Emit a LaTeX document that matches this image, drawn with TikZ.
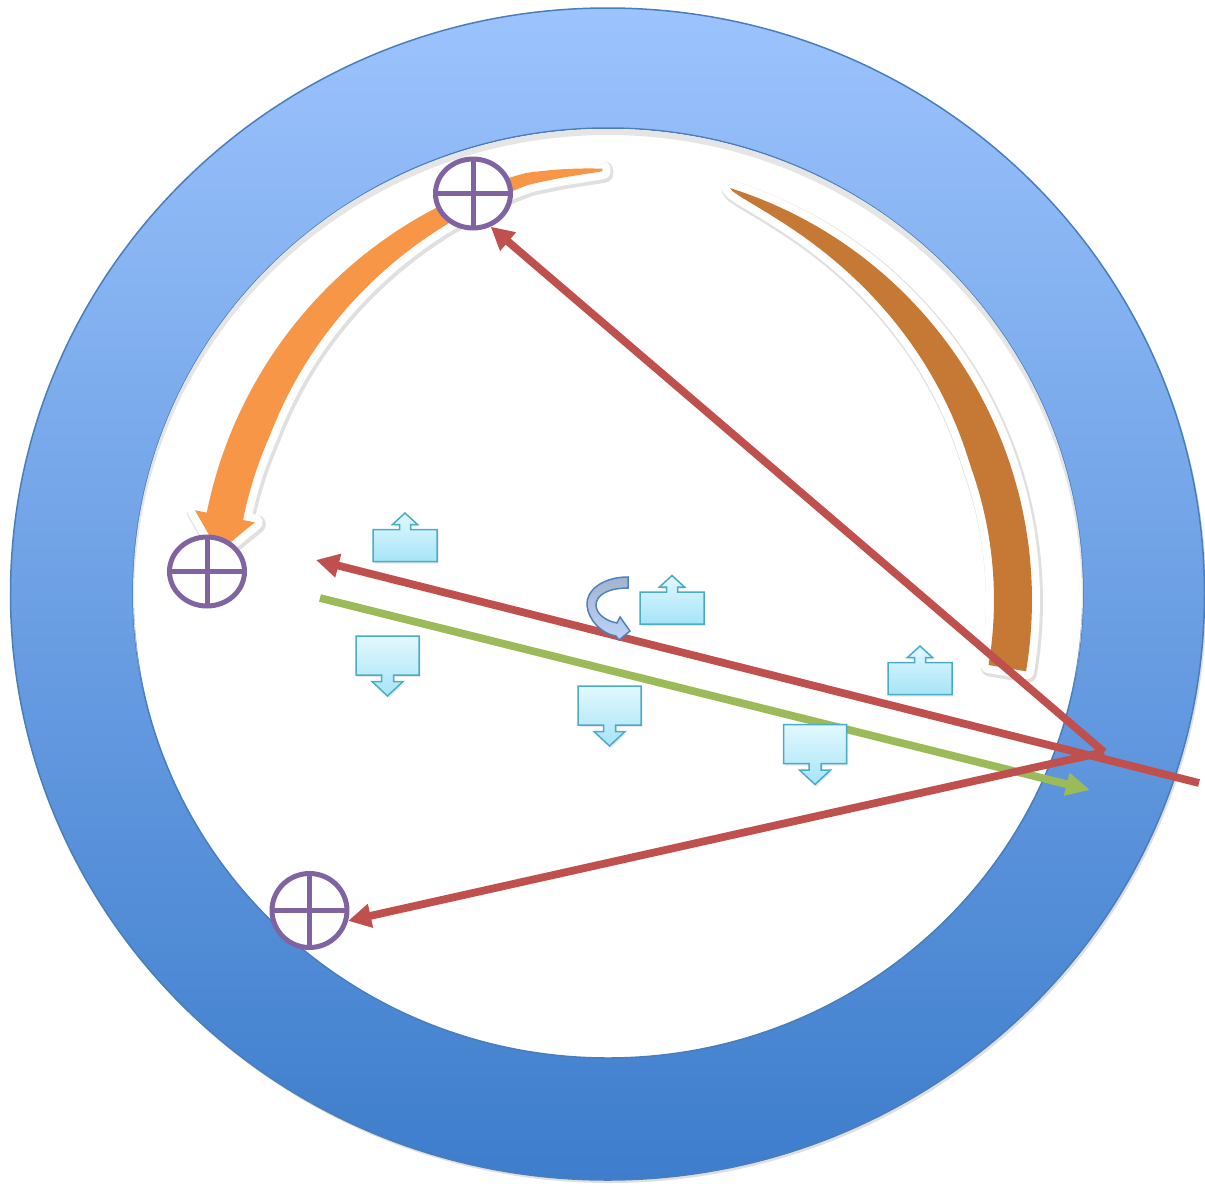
\documentclass[tikz,border=0pt]{standalone}
\usepackage{tikz}
\usetikzlibrary{arrows.meta, shapes.geometric, shadows}
\definecolor{ringtop}{HTML}{9CC3FD}
\definecolor{ringbot}{HTML}{3D7DCC}
\definecolor{ringline}{HTML}{4A7EBB}
\definecolor{nodepurple}{HTML}{8064A2}
\definecolor{linered}{HTML}{C0504D}
\definecolor{linegreen}{HTML}{9BBB59}
\definecolor{arcorange}{HTML}{F79646}
\definecolor{arcbrown}{HTML}{C67935}
\definecolor{calltop}{HTML}{E2F8FE}
\definecolor{callbot}{HTML}{A6E4F7}
\definecolor{calledge}{HTML}{4BACC6}
\definecolor{twisttop}{HTML}{A3B3CF}
\definecolor{twistbot}{HTML}{BCD4F8}
\definecolor{twistedge}{HTML}{4F81BD}
\tikzstyle{redarr}=[-{Triangle[length=0.46cm,width=0.46cm]},line width=0.155cm,color=linered]
\tikzstyle{greenarr}=[-{Triangle[length=0.48cm,width=0.44cm]},line width=0.155cm,color=linegreen]
\tikzstyle{crossnode}=[ellipse,draw=nodepurple,fill=white,line width=0.1cm,minimum width=1.5cm,
  minimum height=1.38cm,inner sep=0pt,path picture={\draw[nodepurple,line width=0.1cm]
  (path picture bounding box.north) -- (path picture bounding box.south)
  (path picture bounding box.west) -- (path picture bounding box.east);}]
\tikzstyle{glow}=[preaction={draw=black!12,line width=0.38cm,line join=round,
  transform canvas={shift={(0.03cm,-0.04cm)}}},preaction={draw=white,line width=0.32cm,line join=round}]
\tikzstyle{callbox}=[draw=calledge,line width=0.03cm,top color=calltop,bottom color=callbot,
  drop shadow={opacity=0.18,shadow xshift=0.03cm,shadow yshift=-0.04cm}]
\tikzstyle{twistarrow}=[draw=twistedge,line width=0.03cm,top color=twisttop,bottom color=twistbot]
\tikzset{
  upcall/.pic={\path[callbox] (-32,-16) -- (32,-16) -- (32,16) -- (5.5,16) -- (5.5,21) -- (12.5,21)
    -- (0,32.5) -- (-12.5,21) -- (-5.5,21) -- (-5.5,16) -- (-32,16) -- cycle;},
  downcall/.pic={\path[callbox] (-31.5,19.5) -- (31.5,19.5) -- (31.5,-19.5) -- (6,-19.5) -- (6,-26)
    -- (15.5,-26) -- (0,-40.5) -- (-15.5,-26) -- (-6,-26) -- (-6,-19.5) -- (-31.5,-19.5) -- cycle;}
}

\begin{document}
\begin{tikzpicture}[x=0.02cm,y=0.02cm]
  \path[use as bounding box] (0,0) rectangle (1205,-1184);
  % ring
  \shade[top color=ringtop,bottom color=ringbot,draw=ringline,line width=0.03cm,
    drop shadow={opacity=0.25,shadow xshift=0.04cm,shadow yshift=-0.06cm}] (607.5,-594) ellipse (597 and 586);
  \fill[white,draw=ringline,line width=0.03cm] (608,-593) ellipse (475 and 465);
  \begin{scope}
    \clip (608,-593) ellipse (475 and 465);
    \draw[black!10,line width=0.12cm] (608,-599) ellipse (477 and 467);
  \end{scope}
  % curved arrows
  \fill[arcorange,glow] plot[domain=95:168.6,samples=60] ({640+(442-0.9*max(0,105-\x))*cos(\x)},{-600+(442-0.9*max(0,105-\x))*sin(\x)})
    -- ([shift={(640,-600)}]168.6:454) -- ([shift={(640,-600)}]173.5:424) -- ([shift={(640,-600)}]168.6:393)
    -- plot[domain=168.6:95,samples=60] ({640+(442-0.9*max(0,105-\x)-37*pow(min(1,(\x-94)/62),0.65))*cos(\x)},{-600+(442-0.9*max(0,105-\x)-37*pow(min(1,(\x-94)/62),0.65))*sin(\x)})
    -- cycle;
  \fill[arcbrown,glow] plot[domain=72.5:-9.5,samples=60] ({600+432*cos(\x)},{-600+432*sin(\x)})
    -- plot[domain=-9.5:72,samples=60] ({600+(432-38*pow(min(1,(72.5-\x)/52.5),0.6))*cos(\x)},{-600+(432-38*pow(min(1,(72.5-\x)/52.5),0.6))*sin(\x)})
    -- cycle;
  % nodes
  \node[crossnode] (ptop) at (473,-193.5) {};
  \node[crossnode] (pleft) at (207,-571.5) {};
  \node[crossnode,minimum height=1.48cm] (pbot) at (309.5,-910.5) {};
  \coordinate (hub) at (1104,-752);
  \coordinate (rim) at (1199,-783);
  \coordinate (ltip) at (316,-560);
  \coordinate (gstart) at (320,-598);
  \coordinate (gend) at (1090,-790);
  % connectors
  \draw[greenarr] (gstart) -- (gend);
  \draw[redarr] (rim) -- (ltip);
  \draw[redarr] (hub) -- (ptop.-62);
  \draw[redarr] (hub) -- (pbot.-15);
  % callouts
  \pic (up1) at (405,-545.5) {upcall};
  \pic (up2) at (672,-608) {upcall};
  \pic (up3) at (920,-678.5) {upcall};
  \pic (dn1) at (387.5,-655.5) {downcall};
  \pic (dn2) at (609.5,-705.5) {downcall};
  \pic (dn3) at (815,-744) {downcall};
  \path[twistarrow] (628,-577) .. controls (602,-577) and (586,-591) .. (587,-605)
    .. controls (588,-620) and (602,-634) .. (616,-636) -- (619,-640) -- (630,-631) -- (620,-617) -- (617,-623)
    .. controls (606,-621) and (596,-614) .. (596,-605) .. controls (596,-595) and (608,-588) .. (628,-588) -- cycle;
\end{tikzpicture}
\end{document}
